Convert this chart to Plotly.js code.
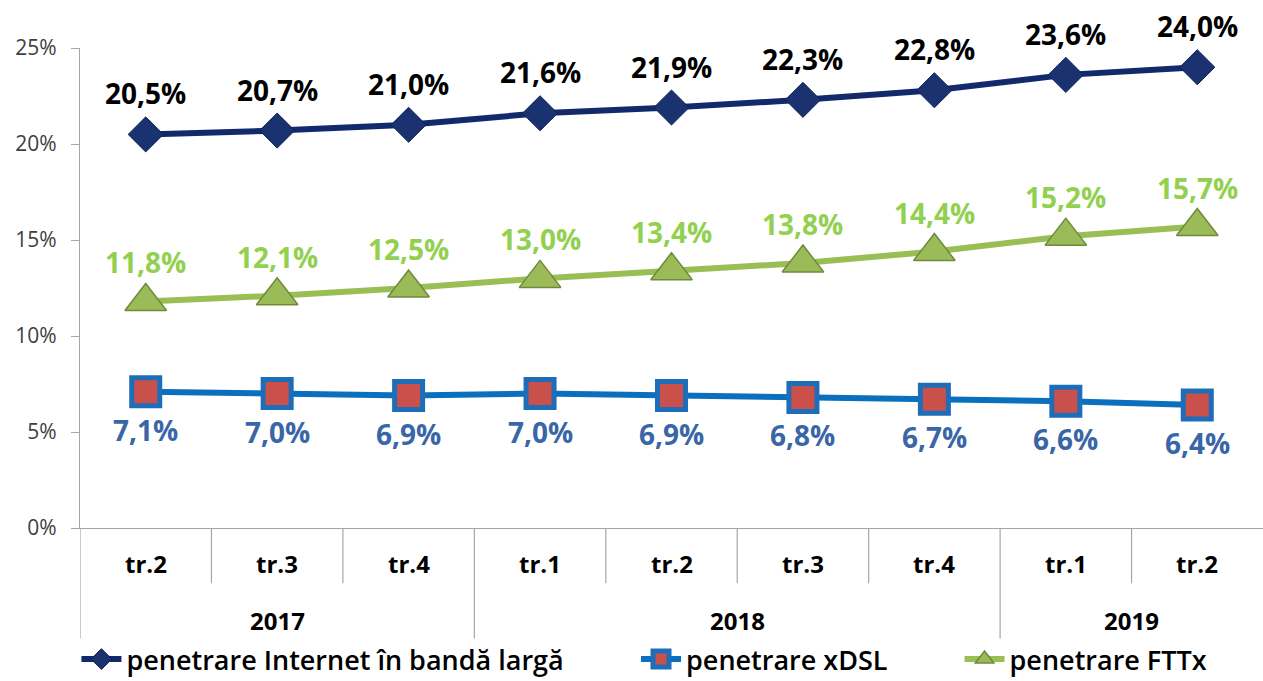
<!DOCTYPE html>
<html><head><meta charset="utf-8">
<script src="https://cdn.plot.ly/plotly-3.0.1.min.js"></script>
<style>html,body{margin:0;padding:0;background:#fff}#chart{width:1263px;height:681px}</style>
</head><body><div id="chart"></div>
<script>
const quarters = ['tr.2','tr.3','tr.4','tr.1','tr.2','tr.3','tr.4','tr.1','tr.2'];
const years = ['2017','2018','2019'];
const yearStart = [0, 3, 7];
const yearEnd = [2, 6, 8];
const broadband = [20.5,20.7,21.0,21.6,21.9,22.3,22.8,23.6,24.0];
const xdsl = [7.1,7.0,6.9,7.0,6.9,6.8,6.7,6.6,6.4];
const fttx = [11.8,12.1,12.5,13.0,13.4,13.8,14.4,15.2,15.7];
const names = ['penetrare Internet în bandă largă','penetrare xDSL','penetrare FTTx'];

const idx = quarters.map((q,i)=>i);
const fmt = v => v.toFixed(1).replace('.', ',') + '%';
const FONT = '"Open Sans", Lato, sans-serif';

const traces = [
  {x: idx, y: broadband, name: names[0], legend:'legend', mode:'lines+markers', type:'scatter',
   line:{color:'#12296B', width:6},
   marker:{symbol:'diamond', size:27, color:'#1A3370', line:{color:'#0E2258', width:1}}},
  {x: idx, y: xdsl, name: names[1], legend:'legend2', mode:'lines+markers', type:'scatter',
   line:{color:'#0A70BE', width:6},
   marker:{symbol:'square', size:28, color:'#C9504B', line:{color:'#1E6DB8', width:5}}},
  {x: idx, y: fttx, name: names[2], legend:'legend3', mode:'lines+markers', type:'scatter',
   line:{color:'#99BE55', width:6},
   marker:{symbol:'triangle-up', size:36, color:'#9BBB59', line:{color:'#6F8B3A', width:1.5}}}
];

const annotations = [];
broadband.forEach((v,i)=>annotations.push({x:i, y:v, xref:'x', yref:'y', text:fmt(v), showarrow:false, yshift:41,
  font:{family:FONT, size:28, color:'#000', weight:'bold'}}));
fttx.forEach((v,i)=>annotations.push({x:i, y:v, xref:'x', yref:'y', text:fmt(v), showarrow:false, yshift:39,
  font:{family:FONT, size:28, color:'#92D050', weight:'bold'}}));
xdsl.forEach((v,i)=>annotations.push({x:i, y:v, xref:'x', yref:'y', text:fmt(v), showarrow:false, yshift:-38,
  font:{family:FONT, size:28, color:'#3966A6', weight:'bold'}}));
quarters.forEach((q,i)=>annotations.push({x:i, y:-0.073, xref:'x', yref:'paper', yanchor:'middle', text:q, showarrow:false,
  font:{family:FONT, size:24, color:'#000', weight:'bold'}}));
years.forEach((yr,k)=>annotations.push({x:(yearStart[k]+yearEnd[k])/2, y:-0.192, xref:'x', yref:'paper', yanchor:'middle', text:yr, showarrow:false,
  font:{family:FONT, size:24, color:'#000', weight:'bold'}}));

const shapes = [];
for (let i=0;i<quarters.length-1;i++){
  const isYear = yearStart.includes(i+1);
  shapes.push({type:'line', xref:'x', yref:'paper', x0:i+0.5, x1:i+0.5, y0:0, y1: isYear ? -0.23 : -0.115,
    line:{color:'#A6A6A6', width:1.2}});
}
shapes.push({type:'line', xref:'x', yref:'paper', x0:-0.5, x1:-0.5, y0:0, y1:-0.23, line:{color:'#A6A6A6', width:1.2}});

const legFont = {family:FONT, size:27, color:'#000', weight:600};
const legBase = {orientation:'h', xanchor:'left', y:-0.274, yanchor:'middle', font:legFont, itemwidth:40, bgcolor:'rgba(0,0,0,0)'};

const layout = {
  width:1263, height:681,
  margin:{l:80, r:0, t:48, b:153, autoexpand:false},
  paper_bgcolor:'#fff', plot_bgcolor:'#fff',
  font:{family:FONT},
  showlegend:true,
  legend: Object.assign({}, legBase, {x:-0.003}),
  legend2: Object.assign({}, legBase, {x:0.470}),
  legend3: Object.assign({}, legBase, {x:0.7435}),
  xaxis:{range:[-0.5, 8.5], showticklabels:false, showgrid:false, zeroline:false, automargin:false,
    showline:true, linecolor:'#A6A6A6', linewidth:1.2, ticks:'', fixedrange:true},
  yaxis:{range:[0,25], dtick:5, ticksuffix:'%', showgrid:false, zeroline:false, automargin:false,
    showline:true, linecolor:'#A6A6A6', linewidth:1.2, ticks:'outside', ticklen:8, tickcolor:'#A6A6A6',
    tickfont:{family:FONT, size:21, color:'#404040'}, ticklabelstandoff:10},
  annotations: annotations,
  shapes: shapes
};
Plotly.newPlot('chart', traces, layout, {displayModeBar:false, staticPlot:true});
</script></body></html>
